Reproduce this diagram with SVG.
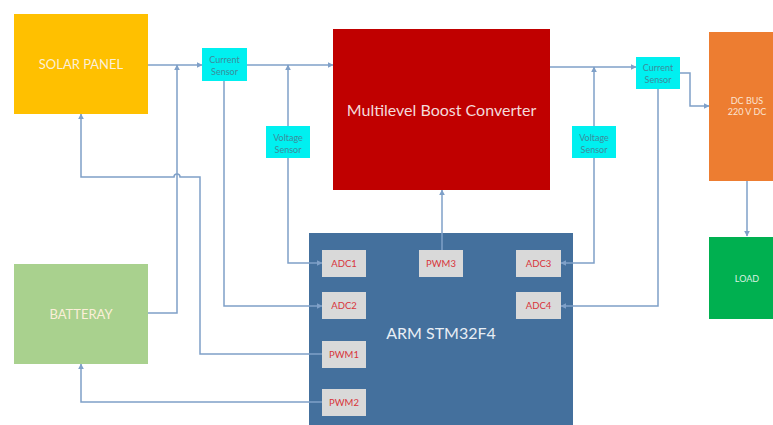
<svg xmlns="http://www.w3.org/2000/svg" width="773" height="425" viewBox="0 0 773 425">
<style>
.c{fill:none;stroke:#7FA0C8;stroke-width:1.5}
.t{font-family:Lato,"Open Sans","Liberation Sans",sans-serif;text-anchor:middle;dominant-baseline:central}
.w{fill:#FBEFD8}
.s{fill:#00F0F0}
.st{fill:#3C8C9C;font-size:9px}
.chip{fill:#D9D9D9}
.ct{fill:#D8343A;font-size:9.5px}
</style>
<defs>
<marker id="a" viewBox="0 0 10 10" refX="9" refY="5" markerWidth="6" markerHeight="6" markerUnits="userSpaceOnUse" orient="auto">
<path d="M0,0 L10,5 L0,10 z" fill="#7FA0C8"/>
</marker>
</defs>
<rect width="773" height="425" fill="#FFFFFF"/>
<g id="arm">
<rect x="309" y="233" width="264" height="200" fill="#44709D"/>
<text class="t" x="441" y="332" font-size="16" fill="#E8EEF5">ARM STM32F4</text>
</g>
<g id="connectors">
<path class="c" d="M148,65 H202" marker-end="url(#a)"/>
<path class="c" d="M148,313 H177 V65" marker-end="url(#a)"/>
<path class="c" d="M322,354 H200 V177 H180 a3,3 0 0 0 -6,0 H81 V114" marker-end="url(#a)"/>
<path class="c" d="M224,81 V306 H322" marker-end="url(#a)"/>
<path class="c" d="M247,65 H333" marker-end="url(#a)"/>
<path class="c" d="M288,126 V65" marker-end="url(#a)"/>
<path class="c" d="M288,158 V263 H322" marker-end="url(#a)"/>
<path class="c" d="M442,250 V190" marker-end="url(#a)"/>
<path class="c" d="M550,67 H636" marker-end="url(#a)"/>
<path class="c" d="M594,126 V67" marker-end="url(#a)"/>
<path class="c" d="M594,158 V263 H561" marker-end="url(#a)"/>
<path class="c" d="M658,89 V306 H561" marker-end="url(#a)"/>
<path class="c" d="M680,73 H690 V106 H709" marker-end="url(#a)"/>
<path class="c" d="M747,181 V236" marker-end="url(#a)"/>
<path class="c" d="M322,402 H81 V364" marker-end="url(#a)"/>
</g>
<g id="solar">
<rect x="14" y="14" width="134" height="100" fill="#FFC000"/>
<text class="t w" x="81" y="64" font-size="13">SOLAR PANEL</text>
</g>
<g id="battery">
<rect x="14" y="264" width="134" height="100" fill="#A9D18E"/>
<text class="t w" x="81" y="314" font-size="13">BATTERAY</text>
</g>
<g id="cs1">
<rect class="s" x="202" y="48" width="45" height="33"/>
<text class="t st" x="224.5" y="59">Current</text>
<text class="t st" x="224.5" y="71">Sensor</text>
</g>
<g id="vs1">
<rect class="s" x="266" y="126" width="44" height="32"/>
<text class="t st" x="288" y="137">Voltage</text>
<text class="t st" x="288" y="149">Sensor</text>
</g>
<g id="mbc">
<rect x="333" y="29" width="217" height="161" fill="#C00000"/>
<text class="t" x="441.5" y="109" font-size="16" fill="#F4DADA">Multilevel Boost Converter</text>
</g>
<g id="vs2">
<rect class="s" x="572" y="126" width="44" height="32"/>
<text class="t st" x="594" y="137">Voltage</text>
<text class="t st" x="594" y="149">Sensor</text>
</g>
<g id="cs2">
<rect class="s" x="636" y="57" width="44" height="32"/>
<text class="t st" x="658" y="67">Current</text>
<text class="t st" x="658" y="79">Sensor</text>
</g>
<g id="dcbus">
<rect x="709" y="32" width="70" height="149" fill="#ED7D31"/>
<text class="t" x="747" y="100" font-size="9" fill="#FBE3D2">DC BUS</text>
<text class="t" x="747" y="111" font-size="9" fill="#FBE3D2">220 V DC</text>
</g>
<g id="load">
<rect x="709" y="237" width="70" height="82" fill="#00B050"/>
<text class="t" x="747" y="278" font-size="9" fill="#D8F2E0">LOAD</text>
</g>
<g id="adc1"><rect class="chip" x="322" y="250" width="44" height="27"/><text class="t ct" x="344" y="263.5">ADC1</text></g>
<g id="adc2"><rect class="chip" x="322" y="292" width="44" height="27"/><text class="t ct" x="344" y="305.5">ADC2</text></g>
<g id="pwm1"><rect class="chip" x="322" y="341" width="44" height="27"/><text class="t ct" x="344" y="354.5">PWM1</text></g>
<g id="pwm2"><rect class="chip" x="322" y="389" width="44" height="27"/><text class="t ct" x="344" y="402.5">PWM2</text></g>
<g id="pwm3"><rect class="chip" x="419" y="250" width="44" height="27"/><text class="t ct" x="441" y="263.5">PWM3</text></g>
<g id="adc3"><rect class="chip" x="516" y="250" width="45" height="27"/><text class="t ct" x="538.5" y="263.5">ADC3</text></g>
<g id="adc4"><rect class="chip" x="516" y="292" width="45" height="27"/><text class="t ct" x="538.5" y="305.5">ADC4</text></g>
</svg>
